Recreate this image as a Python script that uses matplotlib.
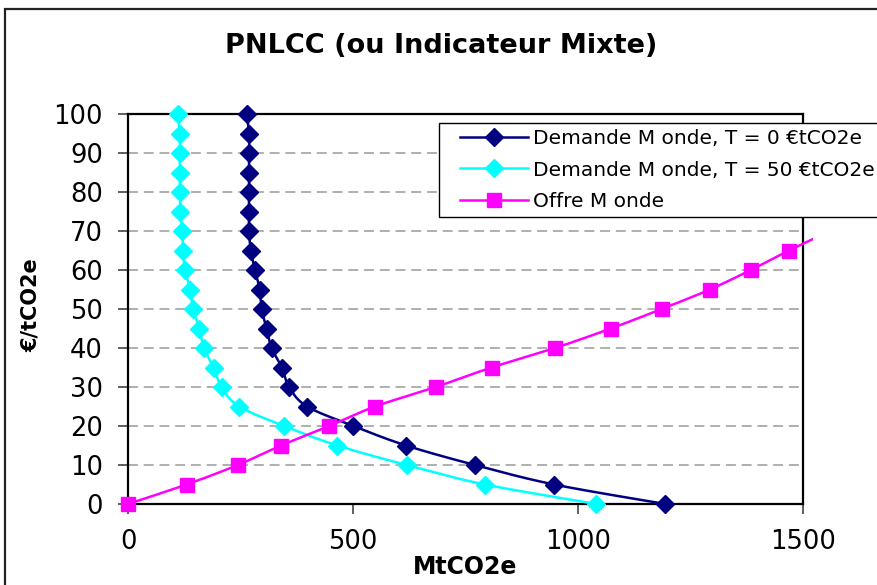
import numpy as np
import matplotlib
matplotlib.use("Agg")
import matplotlib.pyplot as plt
from matplotlib.lines import Line2D
from matplotlib.patches import Rectangle
from matplotlib.legend_handler import HandlerLine2D
from matplotlib.transforms import Bbox, TransformedBbox

plt.rcParams['font.family'] = ['DejaVu Sans']

# ---------------- data ----------------
demand_prices = [100, 95, 90, 85, 80, 75, 70, 65, 60, 55, 50, 45, 40, 35, 30, 25, 20, 15, 10, 5, 0]
demand_t0 = [264, 269, 269, 269, 269, 269, 269, 273, 282, 293, 297, 308, 319, 342, 358, 398, 501, 618, 771, 947, 1194]
demand_t50 = [112, 115, 115, 115, 116, 116, 121, 122, 127, 138, 145, 158, 169, 190, 208, 247, 347, 465, 619, 793, 1041]
supply_prices = [0, 5, 10, 15, 20, 25, 30, 35, 40, 45, 50, 55, 60, 65, 70]
supply = [0, 130, 244, 340, 447, 549, 684, 808, 949, 1073, 1186, 1293, 1384, 1469, 1560]

labels = ["Demande M onde, T = 0 €tCO2e", "Demande M onde, T = 50 €tCO2e", "Offre M onde"]
title = "PNLCC (ou Indicateur Mixte)"
xlabel = "MtCO2e"
ylabel = "€/tCO2e"
xticks = [0, 500, 1000, 1500]
yticks = list(range(0, 101, 10))

NAVY, CYAN, PINK = "#000080", "#00FFFF", "#FF00FF"

W, H = 877, 585
fig = plt.figure(figsize=(W / 100, H / 100), dpi=100)
ax = fig.add_axes([128 / W, (H - 504) / H, (803 - 128) / W, (504 - 114) / H])
ax.set_xlim(0, 1500)
ax.set_ylim(0, 100)

# outer chart border
fig.patches.append(Rectangle((5 / W, -0.05), 1.1, (H - 9) / H + 0.05, transform=fig.transFigure,
                             fill=False, edgecolor="#222222", linewidth=1.6))


def smooth(xs, ys, n=24):
    """Excel-like smoothed line (Catmull-Rom Bezier computed in screen space)."""
    pts = ax.transData.transform(np.column_stack([xs, ys]))
    P = np.vstack([pts[0], pts, pts[-1]])
    out = []
    t = np.linspace(0, 1, n)[:, None]
    for i in range(1, len(P) - 2):
        p0, p1, p2, p3 = P[i - 1], P[i], P[i + 1], P[i + 2]
        c1 = p1 + (p2 - p0) / 6.0
        c2 = p2 - (p3 - p1) / 6.0
        seg = ((1 - t) ** 3) * p1 + 3 * ((1 - t) ** 2) * t * c1 + 3 * (1 - t) * t ** 2 * c2 + t ** 3 * p2
        out.append(seg if i == 1 else seg[1:])
    curve = np.vstack(out)
    d = ax.transData.inverted().transform(curve)
    return d[:, 0], d[:, 1]


LW = 1.8
series = [
    (demand_t0, demand_prices, NAVY, "D", 9.0),
    (demand_t50, demand_prices, CYAN, "D", 9.0),
    (supply, supply_prices, PINK, "s", 9.5),
]
z = 3
for xs, ys, col, mk, ms in series:
    sx, sy = smooth(xs, ys)
    ln, = ax.plot(sx, sy, color=col, lw=LW, zorder=z, solid_capstyle="butt")
    if col == PINK:
        ln.set_clip_box(TransformedBbox(Bbox([[0, -0.05], [(813 - 128) / (803 - 128), 1.05]]), ax.transAxes))
        mxs, mys = xs[:-1], ys[:-1]
    else:
        mxs, mys = xs, ys
    ax.plot(mxs, mys, linestyle="none", marker=mk, ms=ms, color=col, mec=col, zorder=z + 0.5, clip_on=False)
    z += 1

# grid
for v in yticks[1:-1]:
    ax.axhline(v, color="#9a9a9a", lw=1.1, linestyle=(0, (6.5, 3.8)), zorder=1)

ax.set_xticks(xticks)
ax.set_yticks(yticks)
ax.tick_params(axis="both", direction="out", length=7, width=1.1, pad=11, labelsize=18.5, color="#333333")
for sp in ax.spines.values():
    sp.set_linewidth(1.6)
    sp.set_color("black")

ax.set_xlabel(xlabel, fontsize=17, fontweight="bold")
ax.xaxis.set_label_coords((465 - 128) / 675, -(555 - 504) / 390)
ax.set_ylabel(ylabel, fontsize=15, fontweight="bold")
ax.yaxis.set_label_coords((41 - 128) / 675, (504 - 305) / 390)
ax.set_title(title, fontsize=19.5, fontweight="bold", x=(441 - 128) / 675, y=(504 - 54) / 390, va="center")


class ShiftHandler(HandlerLine2D):
    def __init__(self, shift, **kw):
        super().__init__(**kw)
        self.shift = shift

    def create_artists(self, legend, orig_handle, xdescent, ydescent, width, height, fontsize, trans):
        s = self.shift * fontsize
        return super().create_artists(legend, orig_handle, xdescent - s, ydescent, width - s, height, fontsize, trans)


handles = [Line2D([], [], color=c, lw=LW, marker=m, ms=ms, mec=c) for _, _, c, m, ms in series]
leg = ax.legend(handles, labels, loc="upper left", bbox_to_anchor=(439 / W, 1 - 123 / H),
                bbox_transform=fig.transFigure, borderaxespad=0, fontsize=14.5, frameon=True,
                fancybox=False, edgecolor="black", framealpha=1, borderpad=0.3, labelspacing=0.62,
                handlelength=4.13, handletextpad=0.25,
                handler_map={h: ShiftHandler(0.75, numpoints=1) for h in handles})
leg.get_frame().set_linewidth(1.0)
leg.set_zorder(10)

fig.savefig("out.png", dpi=100)
